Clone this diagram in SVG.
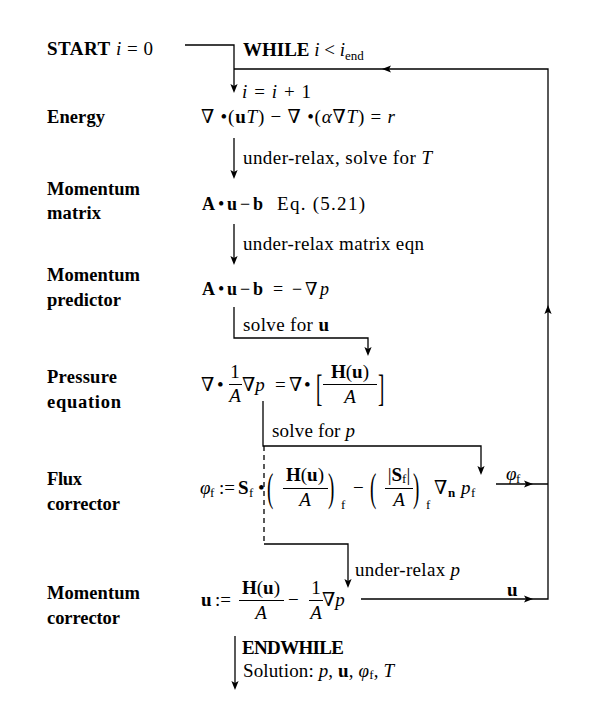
<svg xmlns="http://www.w3.org/2000/svg" xmlns:xlink="http://www.w3.org/1999/xlink" width="598" height="702" viewBox="0 0 598 702">
<style>
text{font-family:"Liberation Serif","DejaVu Serif",serif;font-size:19px;fill:#000}
.lb{font-weight:bold;font-size:18.5px}
.b{font-weight:bold}
.i{font-style:italic}
.sub{font-size:13px}
.m{text-anchor:middle}
.s18{font-size:18px}
.ln{fill:none;stroke:#000;stroke-width:1.3}
.bar{fill:none;stroke:#000;stroke-width:1}
.dash{stroke-dasharray:5 4}
</style>
<defs>
<path id="ah" d="M0,0 L-9,-3.6 L-7,0 L-9,3.6 Z" fill="#000"/>
</defs>
<rect width="598" height="702" fill="#fff"/>

<g id="connectors">
  <path class="ln" d="M185,45 H234 V90"/>
  <use xlink:href="#ah" transform="translate(234,93) rotate(90)"/>
  <path class="ln" d="M361,599 H548 V69 H234"/>
  <use xlink:href="#ah" transform="translate(533,599)"/>
  <use xlink:href="#ah" transform="translate(548,305) rotate(-90)"/>
  <use xlink:href="#ah" transform="translate(382,69) rotate(180)"/>
  <path class="ln" d="M496,484 H548"/>
  <use xlink:href="#ah" transform="translate(533,484)"/>
  <path class="ln" d="M234,138 V176"/>
  <use xlink:href="#ah" transform="translate(234,179) rotate(90)"/>
  <path class="ln" d="M234,224 V262"/>
  <use xlink:href="#ah" transform="translate(234,265) rotate(90)"/>
  <path class="ln" d="M234,307 V338 H368 V353"/>
  <use xlink:href="#ah" transform="translate(368,356) rotate(90)"/>
  <path class="ln" d="M263,401 V446 H481 V472"/>
  <use xlink:href="#ah" transform="translate(481,475) rotate(90)"/>
  <path class="ln dash" d="M264,446 V544"/>
  <path class="ln" d="M264,544 H348 V585"/>
  <use xlink:href="#ah" transform="translate(348,588) rotate(90)"/>
  <path class="ln" d="M235,636 V687"/>
  <use xlink:href="#ah" transform="translate(235,690) rotate(90)"/>
</g>

<g id="start">
  <text x="47" y="55" textLength="106" lengthAdjust="spacing"><tspan class="b">START</tspan> <tspan class="i">i</tspan> = 0</text>
</g>
<g id="while">
  <text x="243" y="56"><tspan class="b">WHILE</tspan> <tspan class="i">i</tspan> &lt; <tspan class="i">i</tspan><tspan class="sub" dy="4">end</tspan></text>
  <text x="242" y="98" textLength="69" lengthAdjust="spacing"><tspan class="i">i</tspan> = <tspan class="i">i</tspan> + 1</text>
</g>

<g id="energy">
  <text class="lb" x="47" y="123" textLength="58" lengthAdjust="spacing">Energy</text>
  <text x="201" y="123" textLength="194" lengthAdjust="spacing">∇ •(<tspan class="b">u</tspan><tspan class="i">T</tspan>) − ∇ •(<tspan class="i">α</tspan>∇<tspan class="i">T</tspan>) = <tspan class="i">r</tspan></text>
  <text x="243" y="164" textLength="189" lengthAdjust="spacing">under-relax, solve for <tspan class="i">T</tspan></text>
</g>

<g id="momentum-matrix">
  <text class="lb" x="47" y="195" textLength="93" lengthAdjust="spacing">Momentum</text>
  <text class="lb" x="47" y="219" textLength="54" lengthAdjust="spacing">matrix</text>
  <text class="s18" x="202" y="210"><tspan class="b">A</tspan><tspan x="218">•</tspan><tspan class="b" x="227">u</tspan><tspan x="240">−</tspan><tspan class="b" x="253">b</tspan></text>
  <text x="277" y="210" textLength="88" lengthAdjust="spacing">Eq. (5.21)</text>
  <text x="243" y="250" textLength="181" lengthAdjust="spacing">under-relax matrix eqn</text>
</g>

<g id="momentum-predictor">
  <text class="lb" x="47" y="281" textLength="93" lengthAdjust="spacing">Momentum</text>
  <text class="lb" x="47" y="306" textLength="74" lengthAdjust="spacing">predictor</text>
  <text class="s18" x="202" y="295"><tspan class="b">A</tspan><tspan x="218">•</tspan><tspan class="b" x="227">u</tspan><tspan x="240">−</tspan><tspan class="b" x="253">b</tspan><tspan x="273">=</tspan><tspan x="292">−</tspan><tspan x="305">∇</tspan><tspan class="i" x="320">p</tspan></text>
  <text x="243" y="331" textLength="86" lengthAdjust="spacing">solve for <tspan class="b">u</tspan></text>
</g>

<g id="pressure-equation">
  <text class="lb" x="47" y="383" textLength="70" lengthAdjust="spacing">Pressure</text>
  <text class="lb" x="47" y="408" textLength="74" lengthAdjust="spacing">equation</text>
  <text x="201" y="391">∇<tspan x="217">•</tspan></text>
  <text class="m" x="235" y="378">1</text>
  <path class="bar" d="M229,384.5 H242"/>
  <text class="m i" x="235" y="402">A</text>
  <text x="242" y="391">∇<tspan class="i">p</tspan></text>
  <text x="275" y="391">=<tspan x="289">∇</tspan><tspan x="304">•</tspan></text>
  <text transform="translate(316,401) scale(1,2)" font-size="25">[</text>
  <text class="m" x="350" y="378"><tspan class="b">H</tspan>(<tspan class="b">u</tspan>)</text>
  <path class="bar" d="M323,384.5 H377"/>
  <text class="m i" x="350" y="403">A</text>
  <text transform="translate(378,401) scale(1,2)" font-size="25">]</text>
  <text x="272" y="437" textLength="83" lengthAdjust="spacing">solve for <tspan class="i">p</tspan></text>
</g>

<g id="flux-corrector">
  <text class="lb" x="47" y="485" textLength="35" lengthAdjust="spacing">Flux</text>
  <text class="lb" x="47" y="510" textLength="73" lengthAdjust="spacing">corrector</text>
  <text class="i" x="200" y="494">φ</text>
  <text class="sub" x="210" y="497">f</text>
  <text x="219" y="494">:=</text>
  <text class="b" x="238" y="494">S</text>
  <text class="sub" x="249" y="497">f</text>
  <text x="258" y="494">•</text>
  <text transform="translate(267,501) scale(1,2.1)" font-size="25">(</text>
  <text class="m" x="305" y="481"><tspan class="b">H</tspan>(<tspan class="b">u</tspan>)</text>
  <path class="bar" d="M283,488.5 H328"/>
  <text class="m i" x="305" y="506">A</text>
  <text transform="translate(328,501) scale(1,2.1)" font-size="25">)</text>
  <text class="sub" x="341" y="509">f</text>
  <text x="353" y="494">−</text>
  <text transform="translate(370,501) scale(1,2.1)" font-size="25">(</text>
  <text class="m" x="399" y="481">|<tspan class="b">S</tspan><tspan class="sub" dy="2">f</tspan><tspan dy="-2">|</tspan></text>
  <path class="bar" d="M385,488.5 H413"/>
  <text class="m i" x="399" y="506">A</text>
  <text transform="translate(413,501) scale(1,2.1)" font-size="25">)</text>
  <text class="sub" x="426" y="509">f</text>
  <text x="434" y="494">∇</text>
  <text class="sub b" x="448" y="497">n</text>
  <text class="i" x="461" y="494">p</text>
  <text class="sub" x="471" y="497">f</text>
  <text class="i" x="506" y="480">φ</text>
  <text class="sub" x="516" y="483">f</text>
</g>

<g id="momentum-corrector">
  <text class="lb" x="47" y="599" textLength="93" lengthAdjust="spacing">Momentum</text>
  <text class="lb" x="47" y="624" textLength="73" lengthAdjust="spacing">corrector</text>
  <text x="201" y="606"><tspan class="b">u</tspan></text>
  <text x="215" y="606">:=</text>
  <text class="m" x="261" y="594"><tspan class="b">H</tspan>(<tspan class="b">u</tspan>)</text>
  <path class="bar" d="M239,600.5 H284"/>
  <text class="m i" x="261" y="619">A</text>
  <text x="288" y="606">−</text>
  <text class="m" x="316" y="594">1</text>
  <path class="bar" d="M309,600.5 H323"/>
  <text class="m i" x="316" y="619">A</text>
  <text x="322" y="606">∇<tspan class="i">p</tspan></text>
  <text x="355" y="576" textLength="105" lengthAdjust="spacing">under-relax <tspan class="i">p</tspan></text>
  <text class="b" x="507" y="596">u</text>
</g>

<g id="endwhile">
  <text x="242" y="654" textLength="102" lengthAdjust="spacing"><tspan class="b">ENDWHILE</tspan></text>
  <text x="243" y="677" textLength="151" lengthAdjust="spacing">Solution: <tspan class="i">p</tspan>, <tspan class="b">u</tspan>, <tspan class="i">φ</tspan><tspan class="sub" dy="2">f</tspan><tspan dy="-2">, </tspan><tspan class="i">T</tspan></text>
</g>
</svg>
